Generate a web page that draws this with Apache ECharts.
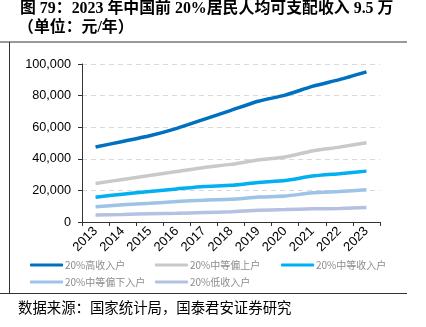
<!DOCTYPE html>
<html><head><meta charset="utf-8">
<script src="https://cdn.jsdelivr.net/npm/echarts@6/dist/echarts.min.js"></script>
<style>html,body{margin:0;padding:0;background:#fff}#c{width:426px;height:327px}</style>
</head><body><div id="c"></div>
<script>
const years = ['2013','2014','2015','2016','2017','2018','2019','2020','2021','2022','2023'];
const high = [47457,50968,54544,59259,64934,70640,76401,80294,85836,90116,95055];
const upperMid = [24361,26937,29438,31990,34547,36471,39230,41172,44949,47397,50220];
const mid = [15698,17631,19320,20924,22495,23189,25035,26249,29053,30598,32195];
const lowerMid = [9654,10887,11894,12899,13843,14361,15777,16443,18446,19303,20442];
const low = [4402,4747,5221,5529,5958,6440,7380,7869,8333,8601,9215];
const names = ['20%高收入户','20%中等偏上户','20%中等收入户','20%中等偏下入户','20%低收入户'];
const colors = ['#0070C0','#C9C9C9','#00B0F0','#9DC3E6','#B4C1E2'];
const values = [high, upperMid, mid, lowerMid, low];
const titleText = '图 79：2023 年中国前 20%居民人均可支配收入 9.5 万';
const unitText = '（单位：元/年）';
const sourceText = '数据来源：国家统计局，国泰君安证券研究';

const chart = echarts.init(document.getElementById('c'));
const legendPos = [[30,260],[155,260],[281,260],[30,277],[155,277]];
const tfont = 'bold 15.9px "Liberation Serif", "Noto Sans CJK SC"';
chart.setOption({
  animation:false,
  graphic:[
    {type:'text',x:20,y:9,style:{text:titleText,font:tfont,fill:'#000',verticalAlign:'middle',align:'left'}},
    {type:'text',x:18,y:28,style:{text:unitText,font:tfont,fill:'#000',verticalAlign:'middle',align:'left'}},
    {type:'text',x:18,y:308,style:{text:sourceText,font:'14.4px "Noto Sans CJK SC"',fill:'#000',verticalAlign:'middle',align:'left'}},
    {type:'line',shape:{x1:0,y1:42,x2:407,y2:42},style:{stroke:'#333',lineWidth:1}},
    {type:'line',shape:{x1:9.5,y1:42,x2:9.5,y2:293},style:{stroke:'#333',lineWidth:1}},
    {type:'line',shape:{x1:0,y1:293.5,x2:407,y2:293.5},style:{stroke:'#333',lineWidth:1}}
  ],
  legend: names.map((n,i)=>({
    data:[n], left:legendPos[i][0], top:legendPos[i][1], padding:0,
    itemWidth:33, itemHeight:3, itemGap:2,
    icon:'roundRect',
    textStyle:{fontSize:10,color:'#8c8c8c',fontFamily:'Noto Sans CJK SC',padding:[0,0,0,-3]}
  })),
  grid:{left:82,right:46,top:64,bottom:105},
  xAxis:{
    type:'category', data:years, boundaryGap:true,
    axisLine:{lineStyle:{color:'#333',width:1}},
    axisTick:{show:true,length:4,lineStyle:{color:'#333'}},
    axisLabel:{rotate:45,fontSize:13,color:'#000',fontFamily:'Liberation Sans, Arial',margin:7,interval:0}
  },
  yAxis:{
    type:'value', min:0, max:100000, interval:20000,
    axisLine:{show:true,lineStyle:{color:'#333',width:1}},
    axisTick:{show:true,length:4,lineStyle:{color:'#333'}},
    splitLine:{lineStyle:{color:'#d9d9d9',type:[5,4]}},
    axisLabel:{fontSize:12.7,color:'#000',fontFamily:'Liberation Sans, Arial',margin:11,
      formatter:v=>v.toLocaleString('en-US')}
  },
  series: names.map((n,i)=>({
    name:n, type:'line', data:values[i], smooth:0.2, showSymbol:false, symbol:'none',
    lineStyle:{color:colors[i],width:3.5}, itemStyle:{color:colors[i]},
    z: 10-i
  }))
});
</script></body></html>
